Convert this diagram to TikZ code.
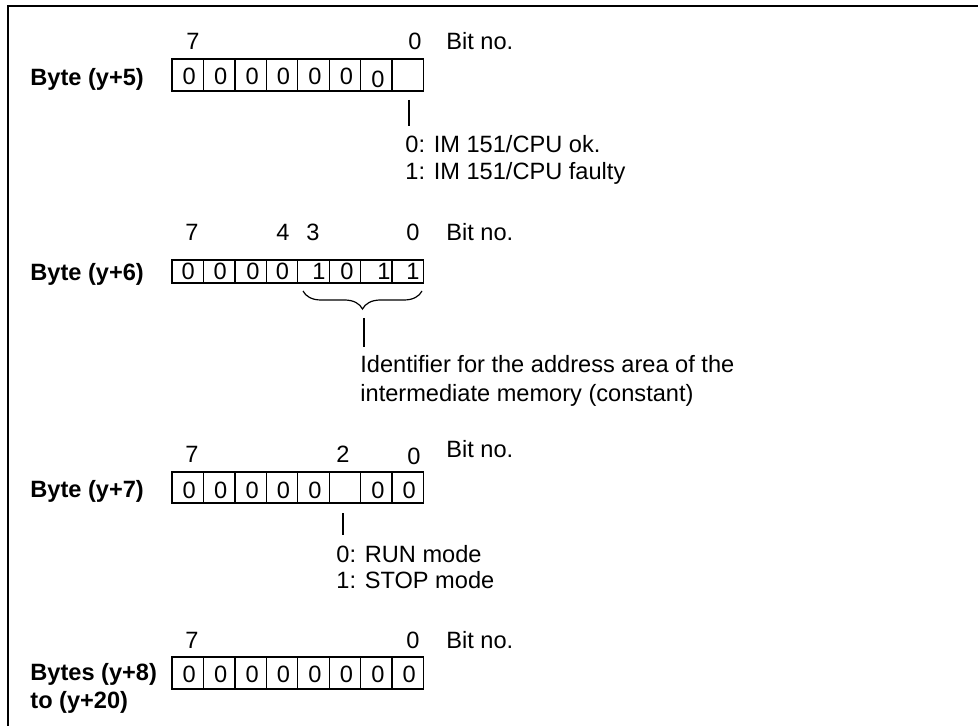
\documentclass[tikz,border=0pt]{standalone}
\usepackage{fontspec}
\setmainfont{Liberation Sans}
\usetikzlibrary{decorations.pathreplacing}

\begin{document}
\begin{tikzpicture}[x=0.5pt,y=-0.5pt,
    font=\fontsize{11.8}{13.5}\selectfont,
    bytelbl/.style={anchor=base west, inner sep=0pt, font=\fontsize{11.8}{13.5}\selectfont\bfseries},
    digit/.style={anchor=base, inner sep=0pt},
    bitlbl/.style={anchor=base, inner sep=0pt},
    note/.style={anchor=base west, inner sep=0pt},
    cell/.style={line width=0.65pt},
    lead/.style={line width=0.6pt}
    ]
\useasboundingbox (0,0) rectangle (978,726);
\edef\xl{172}
\edef\cw{31.44}

\draw [line width=0.75pt](8,726) -- (8,6) -- (978,6);

% Byte (y+5)
\node [bytelbl] (b5) at (30,86) {Byte (y+5)};
\foreach \i in {0,...,7} \draw [cell](\xl+\i*\cw,59) rectangle +(\cw,32);
\foreach \i in {0,...,5} \node [digit] (v5\i) at (\xl+\i*\cw+\cw/2+1.5,85) {0};
\node [digit] (v56) at (\xl+6*\cw+\cw/2+1.5,88) {0};
\node [bitlbl] (n57) at (193,50) {7};
\node [bitlbl] (n50) at (415,50) {0};
\node [note] (t5) at (446,50) {Bit no.};
\coordinate (s5) at (409,100);
\coordinate (e5) at (409,126);
\draw [lead](s5) -- (e5);
\node [note] (m5a) at (405,153) {0: IM 151/CPU ok.};
\node [note] (m5b) at (405,180) {1: IM 151/CPU faulty};

% Byte (y+6)
\node [bytelbl] (b6) at (30,281) {Byte (y+6)};
\foreach \i in {0,...,7} \draw [cell](\xl+\i*\cw,260) rectangle +(\cw,23);
\foreach \i/\v/\d in {0/0/0.5,1/0/1,2/0/2.4,3/0/0.3,4/1/5.4,5/0/2,6/1/7.5,7/1/5.1}
  \node [digit] (v6\i) at (\xl+\i*\cw+\cw/2+\d,280) {\v};
\node [bitlbl] (n67) at (192,241) {7};
\node [bitlbl] (n64) at (283,241) {4};
\node [bitlbl] (n63) at (313,241) {3};
\node [bitlbl] (n60) at (413,241) {0};
\node [note] (t6) at (446,241) {Bit no.};
\draw [lead, decorate, decoration={brace, mirror, amplitude=9pt}](303,291) -- (422,291);
\coordinate (s6) at (364,318);
\coordinate (e6) at (364,347);
\draw [lead](s6) -- (e6);
\node [note] (m6a) at (360,373) {Identifier for the address area of the};
\node [note] (m6b) at (360,401) {intermediate memory (constant)};

% Byte (y+7)
\node [bytelbl] (b7) at (30,497) {Byte (y+7)};
\foreach \i in {0,...,7} \draw [cell](\xl+\i*\cw,472) rectangle +(\cw,31);
\foreach \i in {0,...,4,6,7} \node [digit] (v7\i) at (\xl+\i*\cw+\cw/2+1.5,498) {0};
\node [bitlbl] (n77) at (192,462) {7};
\node [bitlbl] (n72) at (343,462) {2};
\node [bitlbl] (n70) at (414,464) {0};
\node [note] (t7) at (446,458) {Bit no.};
\coordinate (s7) at (343,513);
\coordinate (e7) at (343,535);
\draw [lead](s7) -- (e7);
\node [note] (m7a) at (336,562) {0: RUN mode};
\node [note] (m7b) at (336,588) {1: STOP mode};

% Bytes (y+8) to (y+20)
\node [bytelbl] (b8a) at (30,680) {Bytes (y+8)};
\node [bytelbl] (b8b) at (30,708) {to (y+20)};
\foreach \i in {0,...,7} \draw [cell](\xl+\i*\cw,657) rectangle +(\cw,32);
\foreach \i in {0,...,7} \node [digit] (v8\i) at (\xl+\i*\cw+\cw/2+1.5,682) {0};
\node [bitlbl] (n87) at (192,648) {7};
\node [bitlbl] (n80) at (413,648) {0};
\node [note] (t8) at (446,648) {Bit no.};
\end{tikzpicture}
\end{document}
